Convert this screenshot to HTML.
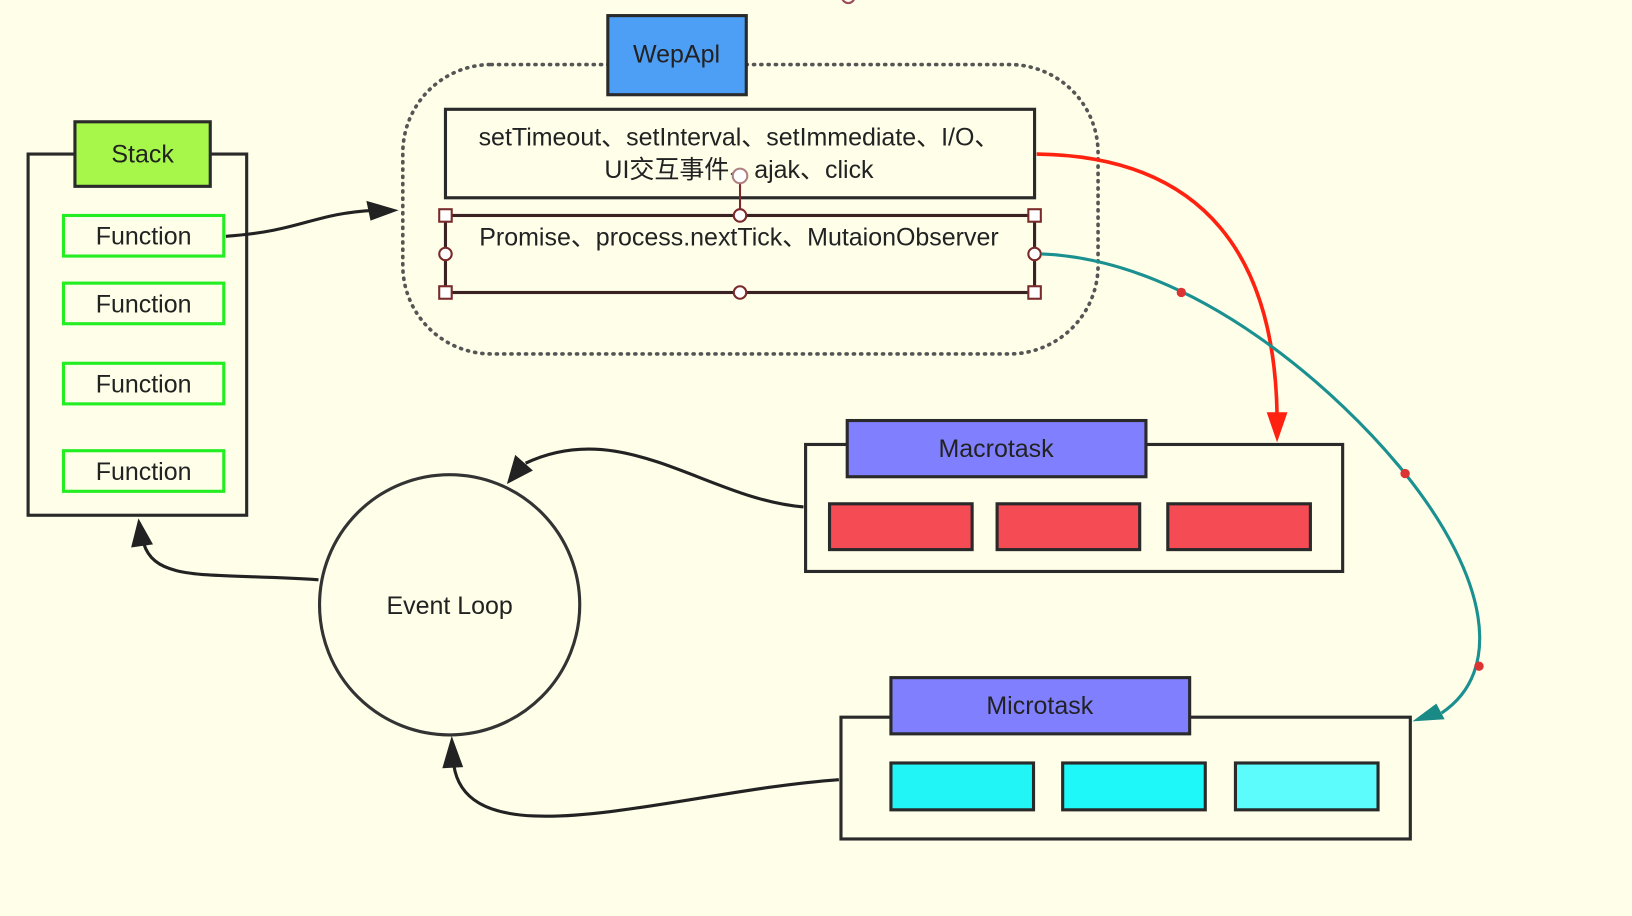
<!DOCTYPE html>
<html><head><meta charset="utf-8"><style>
html,body{margin:0;padding:0;background:#fefee9;}
svg{display:block}
text{font-family:"Liberation Sans","Noto Sans CJK SC",sans-serif;fill:#222;}
</style></head><body>
<svg width="1632" height="916" viewBox="0 0 1568 880" preserveAspectRatio="none" xmlns="http://www.w3.org/2000/svg">
<rect width="1568" height="880" fill="#fefee9"/>
<circle cx="815" cy="-3" r="6" fill="none" stroke="#9a4a5a" stroke-width="2"/>
<!-- Stack -->
<rect x="27" y="148" width="210" height="347" fill="none" stroke="#2a2a2a" stroke-width="3"/>
<rect x="72" y="117" width="130" height="62" fill="#a6f74a" stroke="#2a2a2a" stroke-width="3"/>
<text x="137" y="156" font-size="24" text-anchor="middle">Stack</text>
<g fill="#fefee9" stroke="#22ee22" stroke-width="3">
<rect x="61" y="207" width="154" height="39"/><rect x="61" y="272" width="154" height="39"/>
<rect x="61" y="349" width="154" height="39"/><rect x="61" y="433" width="154" height="39"/></g>
<g font-size="24" text-anchor="middle"><text x="138" y="235">Function</text><text x="138" y="300">Function</text><text x="138" y="377">Function</text><text x="138" y="461">Function</text></g>
<path d="M217 227 C290 222,300 205,360 202" fill="none" stroke="#222" stroke-width="3"/>
<path d="M383 202 L352 193 L356 212 z" fill="#222"/>
<!-- WebApi -->
<rect x="387" y="62" width="668" height="278" rx="85" fill="none" stroke="#555" stroke-width="3.5" stroke-dasharray="1 6" stroke-linecap="round"/>
<rect x="584" y="15" width="133" height="76" fill="#4d9ef5" stroke="#2a2a2a" stroke-width="3"/>
<text x="650" y="60" font-size="24" text-anchor="middle">WepApl</text>
<rect x="428" y="105" width="566" height="85" fill="#fefee9" stroke="#2a2a2a" stroke-width="3"/>
<text x="710" y="140" font-size="24" text-anchor="middle">setTimeout、setInterval、setImmediate、I/O、</text>
<text x="710" y="171" font-size="24" text-anchor="middle">UI交互事件、ajak、click</text>
<rect x="428" y="207" width="566" height="74" fill="#fefee9" stroke="#3a2222" stroke-width="3"/>
<text x="710" y="236" font-size="24" text-anchor="middle">Promise、process.nextTick、MutaionObserver</text>
<line x1="711" y1="170" x2="711" y2="207" stroke="#7a2a2a" stroke-width="2"/>
<g fill="#fff" stroke="#7a2a2a" stroke-width="2">
<circle cx="711" cy="169" r="7" stroke="#b08080"/>
<rect x="422" y="201" width="12" height="12"/><rect x="988" y="201" width="12" height="12"/>
<rect x="422" y="275" width="12" height="12"/><rect x="988" y="275" width="12" height="12"/>
<circle cx="711" cy="207" r="6"/><circle cx="711" cy="281" r="6"/>
<circle cx="428" cy="244" r="6"/><circle cx="994" cy="244" r="6"/></g>
<!-- red arrow -->
<path d="M996 148 C1160 150,1225 250,1227 400" fill="none" stroke="#f21" stroke-width="3.5"/>
<path d="M1227 425 L1217 396 L1237 396 z" fill="#f21"/>
<!-- teal arrow -->
<path d="M1001 244 C1150 250,1290 380,1350 455 C1430 555,1445 645,1385 685" fill="none" stroke="#1a9090" stroke-width="3"/>
<path d="M1357 693 L1380 676 L1388 691 z" fill="#1a8a86"/>
<g fill="#d33"><circle cx="1135" cy="281" r="4.5"/><circle cx="1350" cy="455" r="4.5"/><circle cx="1421" cy="640" r="4.5"/></g>
<!-- Macrotask -->
<rect x="774" y="427" width="516" height="122" fill="none" stroke="#2a2a2a" stroke-width="3"/>
<rect x="814" y="404" width="287" height="54" fill="#8080ff" stroke="#2a2a2a" stroke-width="3"/>
<text x="957" y="439" font-size="24" text-anchor="middle">Macrotask</text>
<g fill="#f54b55" stroke="#2a2a2a" stroke-width="3">
<rect x="797" y="484" width="137" height="44"/><rect x="958" y="484" width="137" height="44"/><rect x="1122" y="484" width="137" height="44"/></g>
<!-- Microtask -->
<rect x="808" y="689" width="547" height="117" fill="none" stroke="#2a2a2a" stroke-width="3"/>
<rect x="856" y="651" width="287" height="54" fill="#8080ff" stroke="#2a2a2a" stroke-width="3"/>
<text x="999" y="686" font-size="24" text-anchor="middle">Microtask</text>
<g stroke="#2a2a2a" stroke-width="3">
<rect x="856" y="733" width="137" height="45" fill="#22f5f5"/><rect x="1021" y="733" width="137" height="45" fill="#1ff8f8"/><rect x="1187" y="733" width="137" height="45" fill="#5cfcfc"/></g>
<!-- Event loop -->
<circle cx="432" cy="581" r="125" fill="none" stroke="#333" stroke-width="3"/>
<text x="432" y="590" font-size="24" text-anchor="middle">Event Loop</text>
<path d="M772 487 C680 480,600 400,505 445" fill="none" stroke="#222" stroke-width="3"/>
<path d="M487 465 L495 437 L512 452 z" fill="#222"/>
<path d="M306 557 C200 550,150 560,138 522" fill="none" stroke="#222" stroke-width="3"/>
<path d="M133 498 L126 526 L147 523 z" fill="#222"/>
<path d="M806 749 C650 760,450 830,436 735" fill="none" stroke="#222" stroke-width="3"/>
<path d="M434 707 L425 738 L445 737 z" fill="#222"/>
</svg>
</body></html>
